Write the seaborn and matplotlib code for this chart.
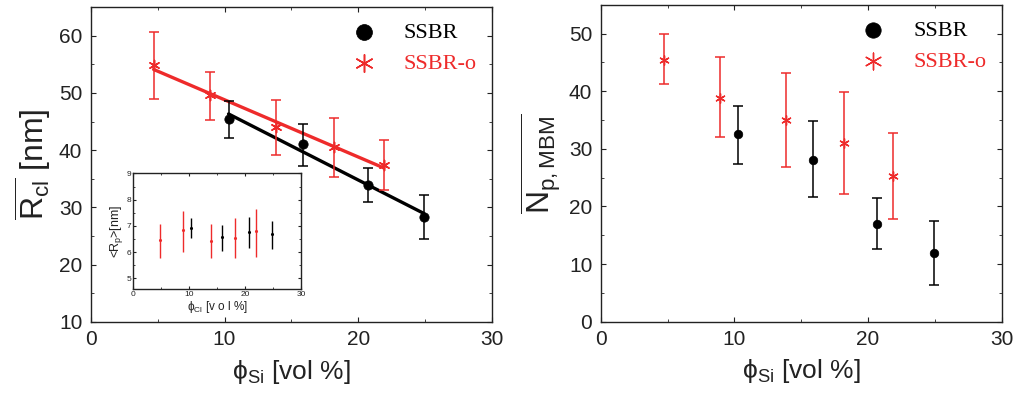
import matplotlib
matplotlib.use('Agg')
import matplotlib.pyplot as plt
from matplotlib.ticker import MultipleLocator
import numpy as np
import pandas as pd
import seaborn as sns

sns.set_style('ticks')
plt.rcParams['font.family'] = ['Liberation Sans', 'DejaVu Sans']
plt.rcParams['mathtext.fontset'] = 'custom'
plt.rcParams['mathtext.rm'] = 'Liberation Sans'
plt.rcParams['mathtext.it'] = 'Liberation Sans:italic'
plt.rcParams['xtick.direction'] = 'in'
plt.rcParams['ytick.direction'] = 'in'

RED = '#ee2b2b'

# SSBR (black) data
phi_ssbr = [10.3, 15.9, 20.7, 24.9]
rcl_ssbr = [45.5, 41.0, 34.0, 28.4]
rcl_ssbr_lo = [42.2, 37.3, 31.0, 24.5]
rcl_ssbr_hi = [48.6, 44.6, 36.9, 32.2]
np_ssbr = [32.5, 28.1, 16.9, 11.9]
np_ssbr_lo = [27.4, 21.6, 12.6, 6.4]
np_ssbr_hi = [37.5, 34.8, 21.4, 17.5]
rp_ssbr = [6.92, 6.58, 6.75, 6.67]
rp_ssbr_lo = [6.52, 6.03, 6.15, 6.10]
rp_ssbr_hi = [7.28, 7.05, 7.35, 7.20]

# SSBR-o (red) data
phi_o = [4.7, 8.9, 13.85, 18.2, 21.9]
rcl_o = [54.8, 49.6, 44.0, 40.6, 37.5]
rcl_o_lo = [49.0, 45.3, 39.1, 35.4, 33.1]
rcl_o_hi = [60.7, 53.7, 48.7, 45.6, 41.7]
np_o = [45.5, 38.8, 35.0, 31.0, 25.3]
np_o_lo = [41.2, 32.0, 26.9, 22.1, 17.8]
np_o_hi = [50.0, 46.0, 43.2, 39.9, 32.8]
rp_o = [6.45, 6.83, 6.44, 6.53, 6.80]
rp_o_lo = [5.78, 6.00, 5.78, 5.78, 5.82]
rp_o_hi = [7.06, 7.58, 7.06, 7.29, 7.64]

ssbr = pd.DataFrame({'phi': phi_ssbr, 'rcl': rcl_ssbr, 'np': np_ssbr, 'rp': rp_ssbr})
ssbro = pd.DataFrame({'phi': phi_o, 'rcl': rcl_o, 'np': np_o, 'rp': rp_o})

STAR = (6, 2, 0)


def err(y, lo, hi):
    y = np.array(y)
    return [y - np.array(lo), np.array(hi) - y]


def style(ax, major, minor):
    ax.xaxis.set_major_locator(MultipleLocator(10))
    ax.xaxis.set_minor_locator(MultipleLocator(5))
    ax.yaxis.set_major_locator(MultipleLocator(major))
    ax.yaxis.set_minor_locator(MultipleLocator(minor))
    ax.tick_params(which='both', top=True, right=True, colors='#222222')
    for s in ax.spines.values():
        s.set_visible(True)
        s.set_linewidth(1.0)
        s.set_color('#222222')


fig = plt.figure(figsize=(10.19, 3.95), dpi=100)
ax1 = fig.add_axes([0.089, 0.185, 0.394, 0.797])
ax2 = fig.add_axes([0.5895, 0.1856, 0.3935, 0.802])

# left panel
sns.regplot(data=ssbro, x='phi', y='rcl', scatter=False, ci=None, ax=ax1,
            line_kws=dict(color=RED, lw=2.4))
sns.regplot(data=ssbr, x='phi', y='rcl', scatter=False, ci=None, ax=ax1,
            line_kws=dict(color='black', lw=2.4))
ax1.errorbar(phi_o, rcl_o, yerr=err(rcl_o, rcl_o_lo, rcl_o_hi), fmt='none',
             ecolor=RED, elinewidth=1.1, capsize=3.5, capthick=1.1)
ax1.errorbar(phi_ssbr, rcl_ssbr, yerr=err(rcl_ssbr, rcl_ssbr_lo, rcl_ssbr_hi), fmt='none',
             ecolor='black', elinewidth=1.1, capsize=3.5, capthick=1.1)
sns.scatterplot(data=ssbr, x='phi', y='rcl', ax=ax1, color='black', s=45,
                marker='o', edgecolor='black', label='SSBR', zorder=5)
sns.scatterplot(data=ssbro, x='phi', y='rcl', ax=ax1, color=RED, s=55,
                marker=STAR, linewidth=1.1, label='SSBR-o', zorder=5)
ax1.set_xlim(0, 30)
ax1.set_ylim(10, 65)
style(ax1, 10, 5)
ax1.tick_params(labelsize=15, pad=6)
ax1.set_xlabel('ϕ$_{\\mathrm{Si}}$ [vol %]', fontsize=19, color='#222222', labelpad=6)
ax1.set_ylabel('$\\overline{\\mathrm{R}_{\\mathrm{cl}}}$ [nm]', fontsize=23, color='#222222', labelpad=4)

# right panel
ax2.errorbar(phi_o, np_o, yerr=err(np_o, np_o_lo, np_o_hi), fmt='none',
             ecolor=RED, elinewidth=1.1, capsize=3.5, capthick=1.1)
ax2.errorbar(phi_ssbr, np_ssbr, yerr=err(np_ssbr, np_ssbr_lo, np_ssbr_hi), fmt='none',
             ecolor='black', elinewidth=1.1, capsize=3.5, capthick=1.1)
sns.scatterplot(data=ssbr, x='phi', y='np', ax=ax2, color='black', s=38,
                marker='o', edgecolor='black', label='SSBR', zorder=5)
sns.scatterplot(data=ssbro, x='phi', y='np', ax=ax2, color=RED, s=45,
                marker=STAR, linewidth=1.0, label='SSBR-o', zorder=5)
ax2.set_xlim(0, 30)
ax2.set_ylim(0, 55)
style(ax2, 10, 5)
ax2.tick_params(labelsize=15, pad=6)
ax2.set_xlabel('ϕ$_{\\mathrm{Si}}$ [vol %]', fontsize=19, color='#222222', labelpad=6)
ax2.set_ylabel('$\\overline{\\mathrm{N}_{\\mathrm{p,MBM}}}$', fontsize=23, color='#222222', labelpad=4)

for ax, ms in ((ax1, 1.7), (ax2, 1.8)):
    ax.legend(loc='upper right', frameon=False, prop={'family': 'Liberation Serif', 'size': 16},
              labelcolor=['black', RED], handlelength=1.0, handletextpad=1.3,
              borderaxespad=0.3, labelspacing=0.45, markerscale=ms)

# inset
axi = fig.add_axes([0.1308, 0.269, 0.1646, 0.292])
axi.errorbar(phi_o, rp_o, yerr=err(rp_o, rp_o_lo, rp_o_hi), fmt='none',
             ecolor=RED, elinewidth=1.0, capsize=0)
axi.errorbar(phi_ssbr, rp_ssbr, yerr=err(rp_ssbr, rp_ssbr_lo, rp_ssbr_hi), fmt='none',
             ecolor='black', elinewidth=1.0, capsize=0)
sns.scatterplot(data=ssbro, x='phi', y='rp', ax=axi, color=RED, s=5,
                marker='o', linewidth=0, legend=False, zorder=5)
sns.scatterplot(data=ssbr, x='phi', y='rp', ax=axi, color='black', s=5,
                marker='o', linewidth=0, legend=False, zorder=5)
axi.set_xlim(0, 30)
axi.set_ylim(4.6, 9)
style(axi, 1, 0.5)
axi.tick_params(labelsize=6, pad=1.5, length=2.5)
axi.tick_params(which='minor', length=1.5)
axi.set_xlabel('ϕ$_{\\mathrm{Cl}}$ [v o l %]', fontsize=8.5, color='#222222', labelpad=1)
axi.set_ylabel('<R$_{\\mathrm{p}}$>[nm]', fontsize=9, color='#222222', labelpad=1)

fig.savefig('out.png', dpi=100)
